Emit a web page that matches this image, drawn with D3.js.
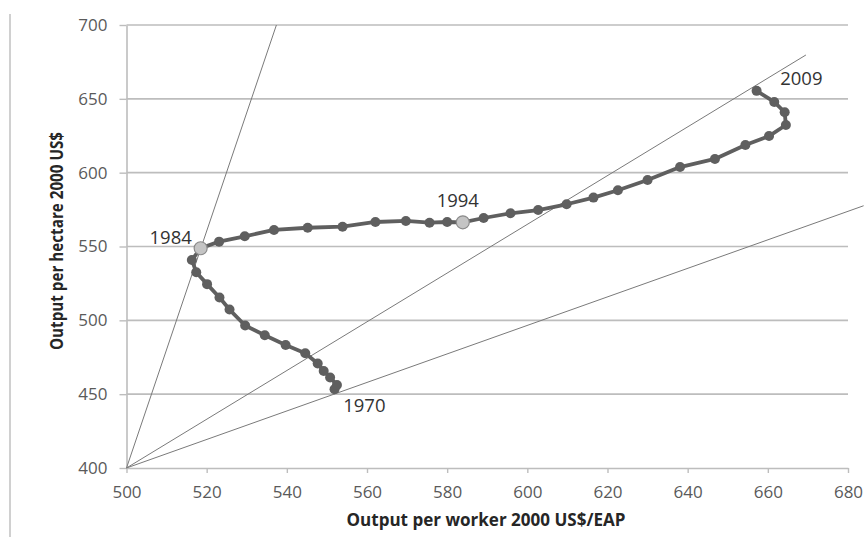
<!DOCTYPE html>
<html><head><meta charset="utf-8">
<script src="https://cdn.jsdelivr.net/npm/d3@7"></script>
<style>body{margin:0;background:#fff;} text{font-family:"Open Sans",sans-serif;}</style>
</head><body>
<svg id="chart" width="868" height="537"></svg>
<script>
const years = d3.range(1970, 2010);
const workerOutput = [551.9,552.5,550.8,549.2,547.7,544.6,539.7,534.5,529.6,525.7,523.2,520.1,517.4,516.3,518.5,523.1,529.5,536.8,545.2,553.9,562.1,569.7,575.6,580.0,583.9,589.1,595.8,602.7,609.8,616.5,622.6,630.0,638.1,646.8,654.4,660.3,664.5,664.2,661.6,657.2];
const hectareOutput = [453.3,456.2,461.3,465.7,470.8,477.7,483.3,489.9,496.5,507.3,515.5,524.5,532.6,540.9,548.8,553.3,556.9,561.2,562.7,563.4,566.6,567.3,566.1,566.6,566.4,569.3,572.5,574.7,578.6,583.1,588.1,595.0,603.8,609.3,618.7,624.8,632.3,640.9,647.9,655.4];
const highlightYears = [1984, 1994];
const labelYears = [1970, 1984, 1994, 2009];
const rayEnds = [[537.4,700],[669.5,679.7],[683.9,577.6]];
const rayOrigin = [500,400];
const xTicks = [500,520,540,560,580,600,620,640,660,680];
const yTicks = [400,450,500,550,600,650,700];
const xTitle = "Output per worker 2000 US$/EAP";
const yTitle = "Output per hectare 2000 US$";

const svg = d3.select("#chart");
const L=126.5, R=848, T=25, B=468;
const x = d3.scaleLinear().domain([500,680]).range([L,R]);
const y = d3.scaleLinear().domain([400,700]).range([B,T]);

// left border
svg.append("line").attr("x1",10).attr("x2",10).attr("y1",14).attr("y2",537)
  .attr("stroke","#d0d0d0").attr("stroke-width",2);

// gridlines
svg.append("g").selectAll("line").data(yTicks.filter(d=>d>400)).join("line")
  .attr("x1",L).attr("x2",R).attr("y1",d=>y(d)).attr("y2",d=>y(d))
  .attr("stroke","#bdbdbd").attr("stroke-width",1.6);

// axes
const yAxis = svg.append("g").attr("transform",`translate(${L},0)`)
  .call(d3.axisLeft(y).tickValues(yTicks).tickSize(7).tickPadding(12).tickSizeOuter(0));
const xAxis = svg.append("g").attr("transform",`translate(0,${B})`)
  .call(d3.axisBottom(x).tickValues(xTicks).tickSize(5).tickPadding(13).tickSizeOuter(0));
[xAxis,yAxis].forEach(a=>{
  a.attr("font-size",17).attr("font-family","'Open Sans',sans-serif");
  a.select(".domain").attr("stroke","#bdbdbd").attr("stroke-width",1.6);
  a.selectAll(".tick line").attr("stroke","#bdbdbd").attr("stroke-width",1.4);
  a.selectAll(".tick text").attr("fill","#5a5a5a");
});

// rays
svg.append("g").selectAll("line").data(rayEnds).join("line")
  .attr("x1",x(rayOrigin[0])).attr("y1",y(rayOrigin[1]))
  .attr("x2",d=>x(d[0])).attr("y2",d=>y(d[1]))
  .attr("stroke","#7a7a7a").attr("stroke-width",1);

// series
const pts = years.map((yr,i)=>({yr, wx:workerOutput[i], hy:hectareOutput[i]}));
svg.append("path").datum(pts)
  .attr("d", d3.line().x(d=>x(d.wx)).y(d=>y(d.hy)))
  .attr("fill","none").attr("stroke","#5f5f5f").attr("stroke-width",3.8).attr("stroke-linejoin","round");
svg.append("g").selectAll("circle").data(pts.filter(d=>!highlightYears.includes(d.yr))).join("circle")
  .attr("cx",d=>x(d.wx)).attr("cy",d=>y(d.hy)).attr("r",5).attr("fill","#5f5f5f");
svg.append("g").selectAll("circle").data(pts.filter(d=>highlightYears.includes(d.yr))).join("circle")
  .attr("cx",d=>x(d.wx)).attr("cy",d=>y(d.hy)).attr("r",6.5)
  .attr("fill","#c4c4c4").attr("stroke","#8a8a8a").attr("stroke-width",1.2);

// year labels
const off = {1970:{dx:8.7,dy:22.4,a:"start"},1984:{dx:-8.8,dy:-4.3,a:"end"},1994:{dx:-5,dy:-15.6,a:"middle"},2009:{dx:23.6,dy:-5.8,a:"start"}};
svg.append("g").selectAll("text").data(pts.filter(d=>labelYears.includes(d.yr))).join("text")
  .attr("x",d=>x(d.wx)+off[d.yr].dx).attr("y",d=>y(d.hy)+off[d.yr].dy)
  .attr("text-anchor",d=>off[d.yr].a).attr("fill","#333")
  .style("font-size","18.5px").text(d=>d.yr);

// titles
svg.append("text").attr("x",486).attr("y",526).attr("text-anchor","middle")
  .attr("fill","#262626").style("font-size","17px").style("font-weight","bold")
  .attr("textLength",279).attr("lengthAdjust","spacingAndGlyphs").text(xTitle);
svg.append("text").attr("transform","translate(62.5,241) rotate(-90)").attr("text-anchor","middle")
  .attr("fill","#262626").style("font-size","17px").style("font-weight","bold")
  .attr("textLength",218).attr("lengthAdjust","spacingAndGlyphs").text(yTitle);
</script>
</body></html>
